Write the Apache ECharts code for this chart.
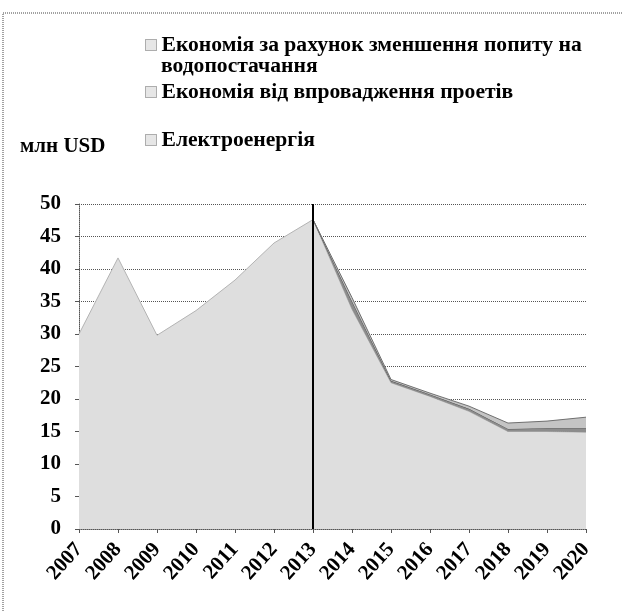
<!DOCTYPE html>
<html>
<head>
<meta charset="utf-8">
<script src="https://cdn.jsdelivr.net/npm/echarts@6/dist/echarts.min.js"></script>
<style>
  html, body { margin: 0; padding: 0; background: #fff; }
  #chart { width: 622px; height: 612px; }
</style>
</head>
<body>
<div id="chart"></div>
<script>
// Years on the horizontal axis
const years = ['2007', '2008', '2009', '2010', '2011', '2012', '2013',
               '2014', '2015', '2016', '2017', '2018', '2019', '2020'];

// Electricity costs, mln USD (bottom layer)
const electricity = [30.0, 41.7, 29.8, 33.6, 38.3, 44.0, 47.6,
                     33.8, 22.5, 20.4, 18.1, 15.0, 15.0, 14.9];

// Savings from project implementation (middle layer, from 2013 on)
const projectSavings = [null, null, null, null, null, null, 0,
                        1.2, 0.3, 0.3, 0.4, 0.4, 0.5, 0.6];

// Savings from reduced water supply demand (top layer, from 2013 on)
const demandSavings = [null, null, null, null, null, null, 0,
                       0.6, 0.2, 0.2, 0.4, 0.9, 1.1, 1.7];

// Value axis ticks
const yTicks = { min: 0, max: 50, step: 5 };

const nameDemand = 'Економія за рахунок зменшення попиту на';
const nameDemandCont = 'водопостачання';
const nameProjects = 'Економія від впровадження проетів';
const nameElectricity = 'Електроенергія';
const unitLabel = 'млн USD';

const FONT = "'Liberation Serif', 'Times New Roman', serif";
const textBase = { fontFamily: FONT, fontWeight: 'bold', fontSize: 21, color: '#000' };
const legendFontSize = 21.6;

const legendBase = {
  orient: 'vertical',
  left: 140,
  icon: 'rect',
  itemWidth: 11,
  itemHeight: 11,
  itemGap: 0,
  selectedMode: false,
  textStyle: Object.assign({}, textBase, { fontSize: legendFontSize }),
  itemStyle: { color: '#e6e6e6', borderColor: '#666', borderWidth: 1, borderType: 'dotted' }
};

const chart = echarts.init(document.getElementById('chart'), null, { renderer: 'canvas' });

chart.setOption({
  animation: false,
  backgroundColor: '#fff',
  title: {
    text: unitLabel,
    left: 15,
    top: 131,
    textStyle: Object.assign({}, textBase)
  },
  legend: [
    Object.assign({}, legendBase, { top: 29, data: [nameDemand] }),
    Object.assign({}, legendBase, { top: 76, data: [nameProjects] }),
    Object.assign({}, legendBase, { top: 124, data: [nameElectricity] })
  ],
  graphic: [
    {
      type: 'rect',
      silent: true,
      shape: { x: 3, y: 13, width: 800, height: 800 },
      style: { fill: 'none', stroke: '#444', lineWidth: 1, lineDash: [1, 1] }
    },
    {
      type: 'text',
      left: 161,
      top: 55,
      silent: true,
      style: { text: nameDemandCont, font: 'bold ' + legendFontSize + 'px ' + FONT, fill: '#000' }
    }
  ],
  grid: { left: 79, right: 36, top: 204, bottom: 83, containLabel: false },
  xAxis: {
    type: 'category',
    data: years,
    boundaryGap: false,
    axisLine: { show: true, lineStyle: { color: '#555', type: 'dotted', width: 1 } },
    axisTick: { show: true, length: 4, lineStyle: { color: '#555' } },
    axisLabel: Object.assign({}, textBase, { rotate: 48, margin: 17, interval: 0 }),
    splitLine: { show: false }
  },
  yAxis: {
    type: 'value',
    min: yTicks.min,
    max: yTicks.max,
    interval: yTicks.step,
    axisLine: { show: true, lineStyle: { color: '#555', type: 'dotted', width: 1 } },
    axisTick: { show: true, length: 4, lineStyle: { color: '#555' } },
    axisLabel: Object.assign({}, textBase, { margin: 18 }),
    splitLine: { show: true, lineStyle: { color: '#555', type: 'dotted', width: 1 } }
  },
  series: [
    {
      name: nameElectricity,
      type: 'line',
      stack: 'total',
      data: electricity,
      showSymbol: false,
      lineStyle: { color: '#b4b4b4', width: 1 },
      itemStyle: { color: '#dcdcdc' },
      areaStyle: { color: '#dedede', opacity: 1 },
      z: 2,
      markLine: {
        silent: true,
        symbol: ['none', 'none'],
        label: { show: false },
        lineStyle: { color: '#000', width: 2, type: 'solid' },
        data: [{ xAxis: '2013' }]
      }
    },
    {
      name: nameProjects,
      type: 'line',
      stack: 'total',
      data: projectSavings,
      showSymbol: false,
      lineStyle: { color: '#4a4a4a', width: 1 },
      itemStyle: { color: '#9a9a9a' },
      areaStyle: { color: '#8c8c8c', opacity: 1 },
      z: 3
    },
    {
      name: nameDemand,
      type: 'line',
      stack: 'total',
      data: demandSavings,
      showSymbol: false,
      lineStyle: { color: '#707070', width: 1 },
      itemStyle: { color: '#c8c8c8' },
      areaStyle: { color: '#c4c4c4', opacity: 1 },
      z: 4
    }
  ]
});
</script>
</body>
</html>
